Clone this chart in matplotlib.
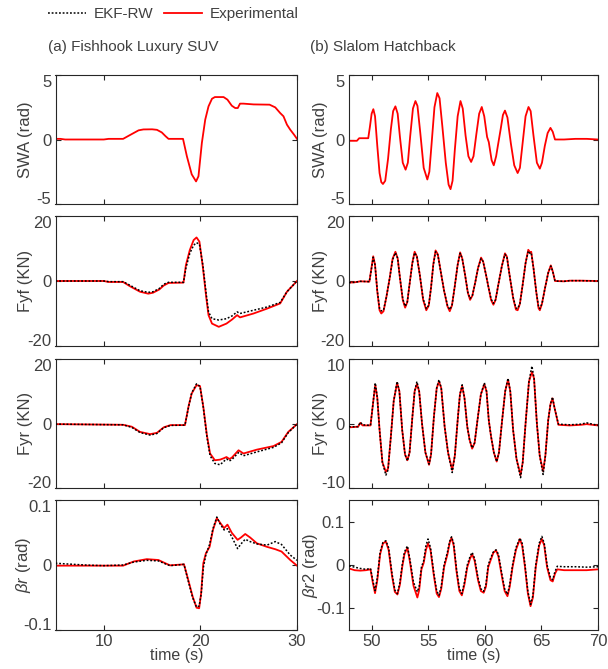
import matplotlib
matplotlib.use("Agg")
import matplotlib.pyplot as plt
from matplotlib.lines import Line2D

plt.rcParams['font.family'] = ['Liberation Sans', 'DejaVu Sans']
plt.rcParams['axes.unicode_minus'] = False
plt.rcParams['mathtext.fontset'] = 'custom'
plt.rcParams['mathtext.it'] = 'Liberation Sans:italic'
plt.rcParams['mathtext.rm'] = 'Liberation Sans'

# ---------------- Left column: Fishhook Luxury SUV ----------------
swa_l_t = [5.0, 5.5, 6.0, 10.0, 10.5, 12.0, 12.6, 13.6, 14.1, 15.0, 15.5, 16.0, 16.4, 16.7, 18.2,
           18.6, 19.1, 19.55, 19.8, 20.15, 20.5, 20.84, 21.2, 21.5, 22.4, 22.8, 23.25, 23.6, 23.87,
           24.1, 24.46, 25.5, 27.16, 27.75, 28.26, 28.6, 28.96, 29.3, 29.7, 30.0]
swa_l_exp = [0.05, 0.05, 0.0, 0.0, 0.05, 0.05, 0.3, 0.71, 0.78, 0.79, 0.75, 0.55, 0.25, 0.05, 0.05,
             -1.3, -2.7, -3.25, -2.85, -0.27, 1.54, 2.57, 3.16, 3.29, 3.29, 3.09, 2.62, 2.44, 2.44,
             2.78, 2.78, 2.72, 2.7, 2.49, 2.05, 1.8, 1.15, 0.76, 0.37, 0.05]

fyf_l_t = [5.0, 8.0, 10.0, 10.5, 12.0, 12.7, 13.75, 14.6, 15.1, 15.75, 16.2, 16.7, 18.25, 18.5,
           18.9, 19.3, 19.6, 19.9, 20.25, 20.6, 20.84, 21.2, 21.9, 22.7, 23.3, 23.8, 24.1, 25.5,
           26.9, 28.26, 28.96, 30.0]
fyf_l_exp = [0.0, 0.0, 0.0, -0.3, -0.3, -1.6, -3.3, -3.9, -3.6, -2.6, -1.4, -0.6, -0.5, 4.9,
             9.5, 12.6, 13.4, 12.1, 4.4, -4.9, -10.5, -13.1, -14.1, -13.1, -11.8, -10.5, -11.2, -10.0,
             -8.5, -6.9, -3.3, 0.0]
fyf_l_ekf = [0.0, 0.0, 0.0, -0.2, -0.2, -1.3, -3.0, -3.5, -3.3, -2.3, -1.0, -0.4, -0.4, 4.0,
             8.5, 11.0, 11.8, 11.3, 5.0, -4.0, -9.5, -11.6, -12.0, -11.6, -10.7, -9.5, -10.0, -9.0,
             -8.0, -6.6, -3.3, 0.0]

fyr_l_t = [5.0, 12.0, 12.9, 13.75, 14.8, 15.5, 16.2, 16.9, 18.4, 18.8, 19.1, 19.6, 19.96, 20.3,
           20.67, 21.0, 21.5, 22.04, 22.4, 22.7, 23.0, 23.25, 23.95, 24.46, 25.85, 27.57, 28.4,
           29.1, 30.0]
fyr_l_exp = [-0.2, -0.4, -1.0, -2.6, -3.3, -2.9, -1.2, -0.5, -0.5, 5.7, 9.3, 11.9, 11.6, 5.2,
             -3.6, -9.3, -11.4, -11.2, -10.8, -10.4, -11.0, -10.6, -8.3, -9.3, -8.1, -7.0, -5.7,
             -2.6, -0.2]
fyr_l_ekf = [-0.2, -0.4, -1.2, -2.8, -3.6, -3.1, -1.3, -0.6, -0.5, 5.5, 9.5, 12.3, 11.5, 5.0,
             -4.0, -10.0, -12.4, -12.8, -11.8, -11.0, -11.6, -11.2, -9.0, -10.0, -8.8, -7.4, -6.0,
             -2.8, -0.2]

beta_l_t = [5.0, 6.0, 8.0, 10.0, 12.0, 13.1, 14.45, 15.65, 16.5, 16.86, 18.3, 18.75, 19.2, 19.6,
            19.87, 20.08, 20.3, 20.57, 20.95, 21.3, 21.7, 22.05, 22.45, 22.8, 23.25, 23.85, 24.2,
            24.64, 25.15, 25.85, 26.9, 27.75, 28.4, 29.3, 30.0]
beta_l_exp = [-0.001, -0.001, -0.001, -0.001, -0.001, 0.0054, 0.009, 0.0077, 0.0018, -0.0005, 0.001,
              -0.0234, -0.0486, -0.0657, -0.0666, -0.0432, 0.0027, 0.018, 0.0279, 0.054, 0.072,
              0.0648, 0.0567, 0.0621, 0.0495, 0.0387, 0.0423, 0.0477, 0.0423, 0.0333, 0.0279,
              0.0243, 0.0207, 0.0077, -0.001]
beta_l_ekf = [0.0027, 0.0018, 0.0, -0.001, 0.0, 0.0045, 0.0072, 0.0063, 0.001, -0.001, 0.001,
              -0.0252, -0.0504, -0.0648, -0.063, -0.045, -0.0045, 0.0162, 0.0315, 0.0558, 0.0738,
              0.063, 0.054, 0.0558, 0.0432, 0.0252, 0.0324, 0.0396, 0.036, 0.0324, 0.0306, 0.036,
              0.0315, 0.0153, 0.0072]

# ---------------- Right column: Slalom Hatchback ----------------
swa_r_t = [48.0, 48.7, 48.9, 49.7, 49.85, 50.0, 50.15, 50.3, 50.5, 50.7, 50.85, 51.0, 51.2, 51.45,
           51.7, 51.9, 52.1, 52.3, 52.5, 52.75, 53.0, 53.2, 53.4, 53.65, 53.87, 54.05, 54.3, 54.6,
           54.92, 55.1, 55.3, 55.55, 55.8, 56.0, 56.25, 56.55, 56.8, 56.97, 57.15, 57.35, 57.6,
           57.85, 58.05, 58.3, 58.55, 58.79, 59.0, 59.25, 59.5, 59.73, 59.95, 60.2, 60.35, 60.6,
           60.79, 61.0, 61.15, 61.4, 61.6, 61.78, 62.0, 62.3, 62.6, 62.9, 63.1, 63.35, 63.6, 63.86,
           64.05, 64.3, 64.6, 64.86, 65.05, 65.3, 65.55, 65.8, 66.0, 66.2, 67.0, 68.0, 69.0, 70.0]
swa_r_exp = [-0.1, -0.1, 0.1, 0.1, 1.0, 2.0, 2.35, 1.8, -0.5, -2.6, -3.3, -3.45, -3.2, -1.5,
             0.8, 2.2, 2.57, 2.0, 0.2, -1.8, -2.34, -1.8, 0.2, 2.4, 2.98, 2.6, 0.5, -2.2,
             -3.1, -2.5, -0.3, 2.5, 3.6, 3.2, 1.0, -1.8, -3.5, -3.85, -3.2, -0.8, 1.8,
             2.98, 2.4, 0.3, -1.3, -1.74, -1.3, 0.4, 2.0, 2.52, 1.8, 0.2, -0.2, -1.6,
             -2.0, -1.3, -0.5, 0.8, 1.9, 2.24, 1.7, -0.3, -2.0, -2.6, -2.2, -0.2, 1.8, 2.52,
             2.2, 0.3, -1.8, -2.26, -1.8, -0.5, 0.5, 0.9, 0.6, 0.0, 0.0, 0.05, 0.05, 0.0]

fyf_r_t = [48.0, 48.5, 49.0, 49.8, 49.95, 50.14, 50.3, 50.5, 50.7, 50.85, 51.05, 51.3, 51.6, 51.85,
           52.1, 52.3, 52.5, 52.75, 52.96, 53.15, 53.35, 53.6, 53.8, 54.0, 54.25, 54.55, 54.83,
           55.05, 55.25, 55.45, 55.65, 55.85, 56.1, 56.4, 56.7, 56.9, 57.1, 57.35, 57.6, 57.82,
           58.0, 58.25, 58.5, 58.7, 58.9, 59.15, 59.4, 59.67, 59.85, 60.1, 60.3, 60.55, 60.76,
           60.95, 61.2, 61.5, 61.78, 61.95, 62.2, 62.5, 62.75, 62.9, 63.1, 63.35, 63.6, 63.84,
           64.0, 64.1, 64.3, 64.55, 64.75, 64.86, 65.05, 65.3, 65.6, 65.83, 66.0, 66.2, 67.0,
           67.5, 68.5, 70.0]
fyf_r_ekf = [-0.5, -0.4, -0.1, -0.2, 3.0, 7.3, 5.0, -3.0, -8.5, -9.2, -9.0, -5.0, 1.0, 6.5,
             8.7, 7.0, 1.0, -5.5, -7.8, -6.5, -1.0, 5.5, 8.7, 7.5, 2.0, -5.5, -8.5,
             -7.5, -2.0, 5.0, 9.0, 8.0, 3.0, -3.0, -7.5, -8.8, -7.5, -1.5, 5.0, 8.5,
             7.0, 2.0, -3.5, -5.4, -4.5, -0.5, 4.0, 6.9, 6.0, 2.0, -1.5, -5.5, -6.9,
             -5.8, -1.0, 4.5, 8.2, 7.5, 1.5, -5.0, -8.3, -8.5, -7.0, -1.0, 5.5, 9.2,
             8.5, 8.7, 4.0, -3.5, -8.0, -8.5, -7.0, -2.5, 2.5, 4.6, 3.0, 0.0, -0.1,
             0.1, 0.1, 0.0]
fyf_r_exp = [-0.5, -0.4, -0.1, -0.2, 3.2, 7.6, 5.0, -3.2, -9.0, -10.0, -9.3, -5.0, 1.0, 6.8,
             9.0, 7.0, 1.0, -5.8, -8.2, -6.5, -1.0, 5.7, 9.0, 7.5, 2.0, -5.8, -9.0,
             -7.5, -2.0, 5.2, 9.4, 8.2, 3.0, -3.0, -7.8, -9.3, -7.5, -1.5, 5.0, 8.8,
             7.0, 2.0, -3.6, -5.8, -4.5, -0.5, 4.0, 7.2, 6.0, 2.0, -1.5, -5.8, -7.3,
             -5.8, -1.0, 4.5, 8.5, 7.5, 1.5, -5.2, -8.8, -9.0, -7.0, -1.0, 5.5, 9.6,
             8.8, 9.0, 4.0, -3.5, -8.4, -9.0, -7.0, -2.5, 2.5, 4.8, 3.0, 0.0, -0.1,
             0.1, 0.1, 0.0]

fyr_r_t = [48.0, 48.8, 49.0, 49.2, 49.9, 50.05, 50.32, 50.5, 50.7, 50.95, 51.26, 51.45, 51.7,
           51.95, 52.25, 52.45, 52.7, 52.95, 53.16, 53.35, 53.6, 53.8, 54.0, 54.2, 54.45, 54.75,
           55.07, 55.25, 55.5, 55.75, 55.95, 56.15, 56.45, 56.75, 57.12, 57.35, 57.6, 57.8, 58.0,
           58.2, 58.45, 58.65, 58.88, 59.1, 59.35, 59.65, 59.96, 60.15, 60.35, 60.55, 60.8, 61.05,
           61.25, 61.5, 61.8, 62.05, 62.25, 62.5, 62.8, 63.16, 63.35, 63.6, 63.9, 64.16, 64.35,
           64.6, 64.85, 65.15, 65.35, 65.6, 65.8, 65.98, 66.15, 66.5, 67.5, 68.5, 69.0, 70.0]
fyr_r_ekf = [-0.5, -0.5, 0.2, -0.2, -0.3, 2.0, 6.3, 4.0, -1.0, -6.0, -8.0, -7.2, -2.0,
             3.5, 6.5, 5.0, -1.0, -4.8, -5.8, -4.5, 1.0, 5.0, 6.5, 5.0, 0.0, -4.5,
             -6.3, -4.8, 1.0, 5.5, 6.8, 5.5, -0.5, -4.5, -7.6, -5.0, 0.5, 4.5, 6.0,
             4.0, -0.5, -2.5, -3.8, -3.0, 0.5, 4.5, 6.3, 5.0, 0.5, -2.0, -4.5, -5.9,
             -4.5, 0.0, 5.0, 7.0, 5.0, -1.0, -5.5, -8.4, -6.0, 0.0, 6.5, 8.9, 7.0,
             0.0, -5.0, -7.9, -5.0, 0.5, 3.0, 4.1, 2.5, -0.1, -0.2, -0.1, 0.1, -0.3]
fyr_r_exp = [-0.6, -0.5, 0.1, -0.3, -0.3, 2.0, 6.0, 4.0, -1.0, -6.0, -7.5, -7.0, -2.0,
             3.5, 6.3, 5.0, -1.0, -4.8, -5.7, -4.5, 1.0, 5.0, 6.1, 5.0, 0.0, -4.5,
             -6.4, -4.8, 1.0, 5.5, 6.5, 5.5, -0.5, -4.5, -7.2, -5.0, 0.5, 4.5, 5.8,
             4.0, -0.5, -2.5, -3.9, -3.0, 0.5, 4.5, 6.1, 5.0, 0.5, -2.0, -4.5, -5.9,
             -4.5, 0.0, 5.0, 6.8, 5.0, -1.0, -5.5, -8.0, -6.0, 0.0, 6.5, 8.0, 7.0,
             0.0, -5.0, -7.4, -5.0, 0.5, 3.0, 3.9, 2.5, -0.2, -0.3, -0.2, -0.1, -0.3]

beta_r_t = [48.0, 48.5, 49.0, 49.5, 49.9, 50.1, 50.3, 50.5, 50.75, 51.0, 51.26, 51.5, 51.8, 52.05,
            52.28, 52.5, 52.7, 52.9, 53.16, 53.4, 53.7, 54.04, 54.2, 54.4, 54.6, 54.8, 54.98, 55.2,
            55.5, 55.75, 55.95, 56.15, 56.4, 56.7, 56.9, 57.06, 57.25, 57.5, 57.75, 57.97, 58.2,
            58.45, 58.7, 58.88, 59.1, 59.4, 59.65, 59.9, 60.1, 60.3, 60.5, 60.75, 60.99, 61.2,
            61.5, 61.75, 62.0, 62.2, 62.45, 62.75, 63.1, 63.3, 63.55, 63.8, 64.04, 64.25, 64.5,
            64.8, 65.04, 65.25, 65.5, 65.8, 66.0, 66.2, 66.4, 67.0, 68.0, 69.0, 70.0]
beta_r_ekf = [-0.002, -0.005, -0.008, -0.010, -0.008, -0.035, -0.059, -0.030, 0.030, 0.052,
              0.056, 0.040, -0.020, -0.058, -0.066, -0.040, 0.000, 0.030, 0.044, 0.010, -0.040,
              -0.062, -0.050, -0.005, 0.010, 0.045, 0.060, 0.040, -0.020, -0.060, -0.070, -0.050,
              0.000, 0.030, 0.055, 0.065, 0.050, -0.010, -0.055, -0.066, -0.040, 0.000, 0.020,
              0.029, 0.015, -0.030, -0.055, -0.061, -0.045, 0.000, 0.015, 0.030, 0.035, 0.025,
              -0.020, -0.055, -0.068, -0.045, 0.000, 0.040, 0.062, 0.050, 0.000, -0.060, -0.091,
              -0.070, 0.000, 0.050, 0.066, 0.050, 0.000, -0.030, -0.034, -0.015, -0.003, -0.004,
              -0.004, -0.005, -0.004]
beta_r_exp = [-0.008, -0.012, -0.013, -0.012, -0.010, -0.040, -0.065, -0.035, 0.025, 0.050,
              0.054, 0.035, -0.025, -0.062, -0.068, -0.045, -0.005, 0.025, 0.040, 0.005, -0.048,
              -0.075, -0.058, -0.010, 0.005, 0.035, 0.050, 0.035, -0.025, -0.066, -0.074, -0.055,
              -0.005, 0.025, 0.052, 0.063, 0.045, -0.015, -0.060, -0.070, -0.045, -0.005, 0.015,
              0.025, 0.010, -0.035, -0.060, -0.064, -0.050, -0.005, 0.010, 0.028, 0.034, 0.020,
              -0.025, -0.060, -0.072, -0.050, -0.005, 0.035, 0.060, 0.045, -0.005, -0.065, -0.095,
              -0.075, -0.005, 0.045, 0.060, 0.045, -0.005, -0.035, -0.038, -0.020, -0.010, -0.012,
              -0.012, -0.012, -0.010]

TEXT = '#404040'
AX = '#262626'
RED = '#ff0000'

fig = plt.figure(figsize=(6.08, 6.69), dpi=100)

W, H = 608.0, 669.0
col_x = [(55.5, 297.0), (349.0, 598.0)]
row_y = [(75, 204), (216, 346), (359, 488), (500, 630)]

def make_ax(c, r):
    x0, x1 = col_x[c]
    y0, y1 = row_y[r]
    ax = fig.add_axes([x0 / W, 1 - y1 / H, (x1 - x0) / W, (y1 - y0) / H])
    for s in ax.spines.values():
        s.set_color(AX)
        s.set_linewidth(0.8)
    ax.tick_params(direction='in', top=True, right=True, length=3.5, width=0.8,
                   colors=AX, labelcolor=TEXT, labelsize=12, pad=3)
    return ax

panels = [
    (0, 0, swa_l_t, swa_l_exp, None, (-5, 5), [-5, 0, 5], 'SWA (rad)'),
    (0, 1, fyf_l_t, fyf_l_exp, fyf_l_ekf, (-20, 20), [-20, 0, 20], 'Fyf (KN)'),
    (0, 2, fyr_l_t, fyr_l_exp, fyr_l_ekf, (-20, 20), [-20, 0, 20], 'Fyr (KN)'),
    (0, 3, beta_l_t, beta_l_exp, beta_l_ekf, (-0.1, 0.1), [-0.1, 0, 0.1], r'$\beta r$ (rad)'),
    (1, 0, swa_r_t, swa_r_exp, None, (-5, 5), [-5, 0, 5], 'SWA (rad)'),
    (1, 1, fyf_r_t, fyf_r_exp, fyf_r_ekf, (-20, 20), [-20, 0, 20], 'Fyf (KN)'),
    (1, 2, fyr_r_t, fyr_r_exp, fyr_r_ekf, (-10, 10), [-10, 0, 10], 'Fyr (KN)'),
    (1, 3, beta_r_t, beta_r_exp, beta_r_ekf, (-0.15, 0.15), [-0.1, 0, 0.1], r'$\beta r$2 (rad)'),
]

ytick_fmt = {0.1: '0.1', -0.1: '-0.1', 0: '0'}

for c, r, t, e, k, ylim, yt, yl in panels:
    ax = make_ax(c, r)
    ax.plot(t, e, color=RED, lw=1.3, zorder=2)
    if k is not None:
        ax.plot(t, k, color='black', lw=1.1, ls=(0, (1.2, 1.2)), zorder=3)
    if c == 0:
        ax.set_xlim(5, 30)
        ax.set_xticks([10, 20, 30])
    else:
        ax.set_xlim(48, 70)
        ax.set_xticks([50, 55, 60, 65, 70])
    ax.set_ylim(*ylim)
    ax.set_yticks(yt)
    if abs(yt[0]) < 1:
        ax.set_yticklabels([ytick_fmt.get(v, str(v)) for v in yt])
    # edge tick labels sit inside the axis extent, as in the reference
    if ylim[1] == yt[-1]:
        ticks = ax.yaxis.get_major_ticks()
        ticks[0].label1.set_verticalalignment('baseline')
        ticks[-1].label1.set_verticalalignment('top')
    ax.set_ylabel(yl, color=TEXT, fontsize=12)
    if c == 0:
        ax.yaxis.set_label_coords(-0.095, 0.5)
    else:
        ax.yaxis.set_label_coords(-0.085 if r < 3 else -0.118, 0.5)
    if r == 3:
        ax.set_xlabel('time (s)', color=TEXT, fontsize=11.5, labelpad=-1)
    else:
        ax.set_xticklabels([])

fig.text(48 / W, 1 - 47 / H, '(a) Fishhook Luxury SUV', color=TEXT, fontsize=11,
         ha='left', va='center')
fig.text(310 / W, 1 - 47 / H, '(b) Slalom Hatchback', color=TEXT, fontsize=11,
         ha='left', va='center')

handles = [Line2D([], [], color='black', lw=1.1, ls=(0, (1.2, 1.2))),
           Line2D([], [], color=RED, lw=1.3)]
leg = fig.legend(handles, ['EKF-RW', 'Experimental'], loc='center left',
                 bbox_to_anchor=(43 / W, 1 - 14 / H), ncol=2, frameon=False,
                 fontsize=11, handlelength=2.5, handletextpad=0.5, columnspacing=0.7,
                 borderaxespad=0, borderpad=0.3)
for txt in leg.get_texts():
    txt.set_color(TEXT)

fig.savefig('out.png', dpi=100)
